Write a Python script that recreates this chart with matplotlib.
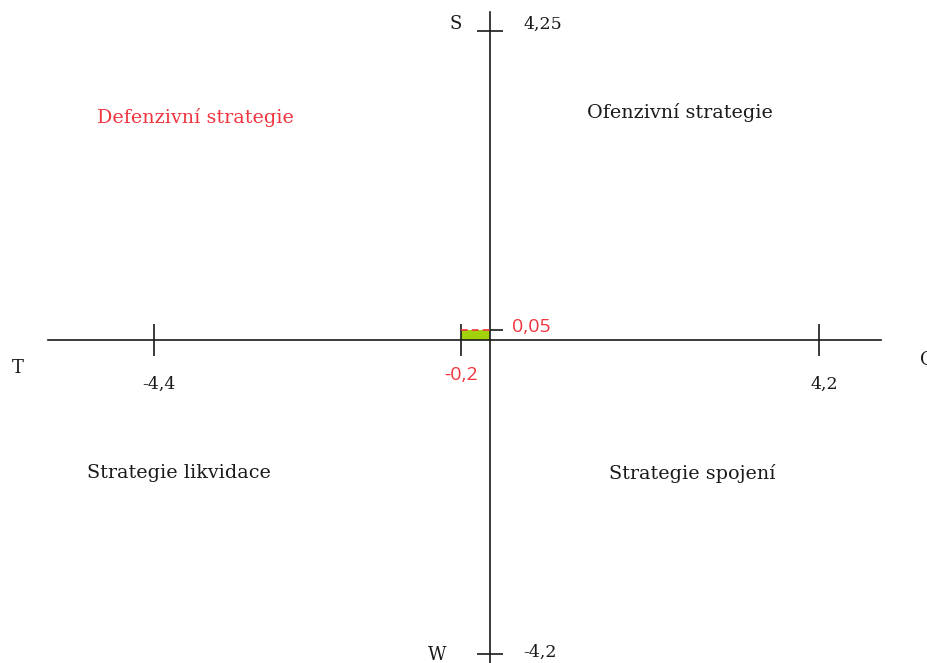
import numpy as np
import matplotlib.pyplot as plt
from matplotlib.path import Path

# SWOT strategy position
x_ticks = [-4.4, -0.2, 4.2]
x_labels = ['-4,4', '-0,2', '4,2']
y_ticks = [4.25, -4.2]
y_labels = ['4,25', '-4,2']
result_x = -0.2
result_y = 0.05
quadrants = ['Defenzivní strategie', 'Ofenzivní strategie',
             'Strategie likvidace', 'Strategie spojení']


def piecewise(src, dst):
    # diagram is not to scale: small values near the origin are stretched
    src = np.asarray(src, float)
    dst = np.asarray(dst, float)
    lo = (dst[1] - dst[0]) / (src[1] - src[0])
    hi = (dst[-1] - dst[-2]) / (src[-1] - src[-2])
    src = np.r_[src[0] - 100, src, src[-1] + 100]
    dst = np.r_[dst[0] - 100 * lo, dst, dst[-1] + 100 * hi]
    return (lambda v: np.interp(v, src, dst)), (lambda v: np.interp(v, dst, src))


fx, ix = piecewise([-4.4, -0.2, 0, 4.2], [154, 461, 490, 819])
fy, iy = piecewise([-4.2, 0, 0.05, 4.25], [9, 323, 333, 632])

serif = 'DejaVu Serif'
sans = 'Open Sans'
red = '#f0353f'
ink = '#1a1a1a'

fig = plt.figure(figsize=(9.28, 6.63), dpi=100)
ax = fig.add_axes([0, 0, 1, 1])
ax.set_xscale('function', functions=(fx, ix))
ax.set_yscale('function', functions=(fy, iy))
ax.set_xlim(ix(0), ix(928))
ax.set_ylim(iy(0), iy(663))
ax.axis('off')

# axes of the diagram
ax.plot([ix(48), ix(881)], [0, 0], color=ink, lw=1.2)
ax.plot([0, 0], [iy(0), iy(651)], color=ink, lw=1.2)

# tick crosses
ax.plot(x_ticks, [0] * len(x_ticks), ls='none', marker='|', ms=23, mew=1.2, color=ink)
ax.plot([0] * len(y_ticks), y_ticks, ls='none', marker='_', ms=19, mew=1.2, color=ink)
half = Path([(0, 0), (1, 0)])
ax.plot([0], [result_y], ls='none', marker=half, ms=19, mew=1.2, color=ink)

# result area
ax.fill_between([result_x, 0], 0, result_y, color='#a2d20e', lw=0)
ax.plot([result_x, 0], [result_y, result_y], color=red, lw=1.2, ls=(0, (4, 2.5)))

# tick labels
for v, s in zip(x_ticks, x_labels):
    c, dx, dy = (red, 0, -35) if v == result_x else (ink, 5, -44)
    fam = sans if v == result_x else serif
    fs = 14 if v == result_x else 12.5
    ax.annotate(s, (v, 0), xytext=(dx, dy), textcoords='offset pixels',
                ha='center', va='center', fontsize=fs, color=c, family=fam)
ax.annotate('0,05', (0, result_y), xytext=(22, 3), textcoords='offset pixels',
            ha='left', va='center', fontsize=14, color=red, family=sans)
for v, s, dy in zip(y_ticks, y_labels, [7, 2]):
    ax.annotate(s, (0, v), xytext=(33, dy), textcoords='offset pixels',
                ha='left', va='center', fontsize=12.5, color=ink, family=serif)

# S, W, O, T
ax.annotate('S', (0, 4.25), xytext=(-34, 7), textcoords='offset pixels',
            ha='center', va='center', fontsize=13, color=ink, family=serif)
ax.annotate('W', (0, -4.2), xytext=(-53, -1), textcoords='offset pixels',
            ha='center', va='center', fontsize=13, color=ink, family=serif)
ax.annotate('T', (ix(48), 0), xytext=(-30, -28), textcoords='offset pixels',
            ha='center', va='center', fontsize=13, color=ink, family=serif)
ax.annotate('O', (ix(881), 0), xytext=(39, -20), textcoords='offset pixels',
            ha='left', va='center', fontsize=13, color=ink, family=serif,
            annotation_clip=False)

# quadrant names
pos = [(-3.83, 3.03), (2.43, 3.10), (-4.06, -1.78), (2.58, -1.78)]
for (x, y), s in zip(pos, quadrants):
    ax.text(x, y, s, ha='center', va='center', fontsize=13.8, family=serif,
            color=red if s.startswith('Def') else ink)

fig.savefig('out.png', dpi=100)
